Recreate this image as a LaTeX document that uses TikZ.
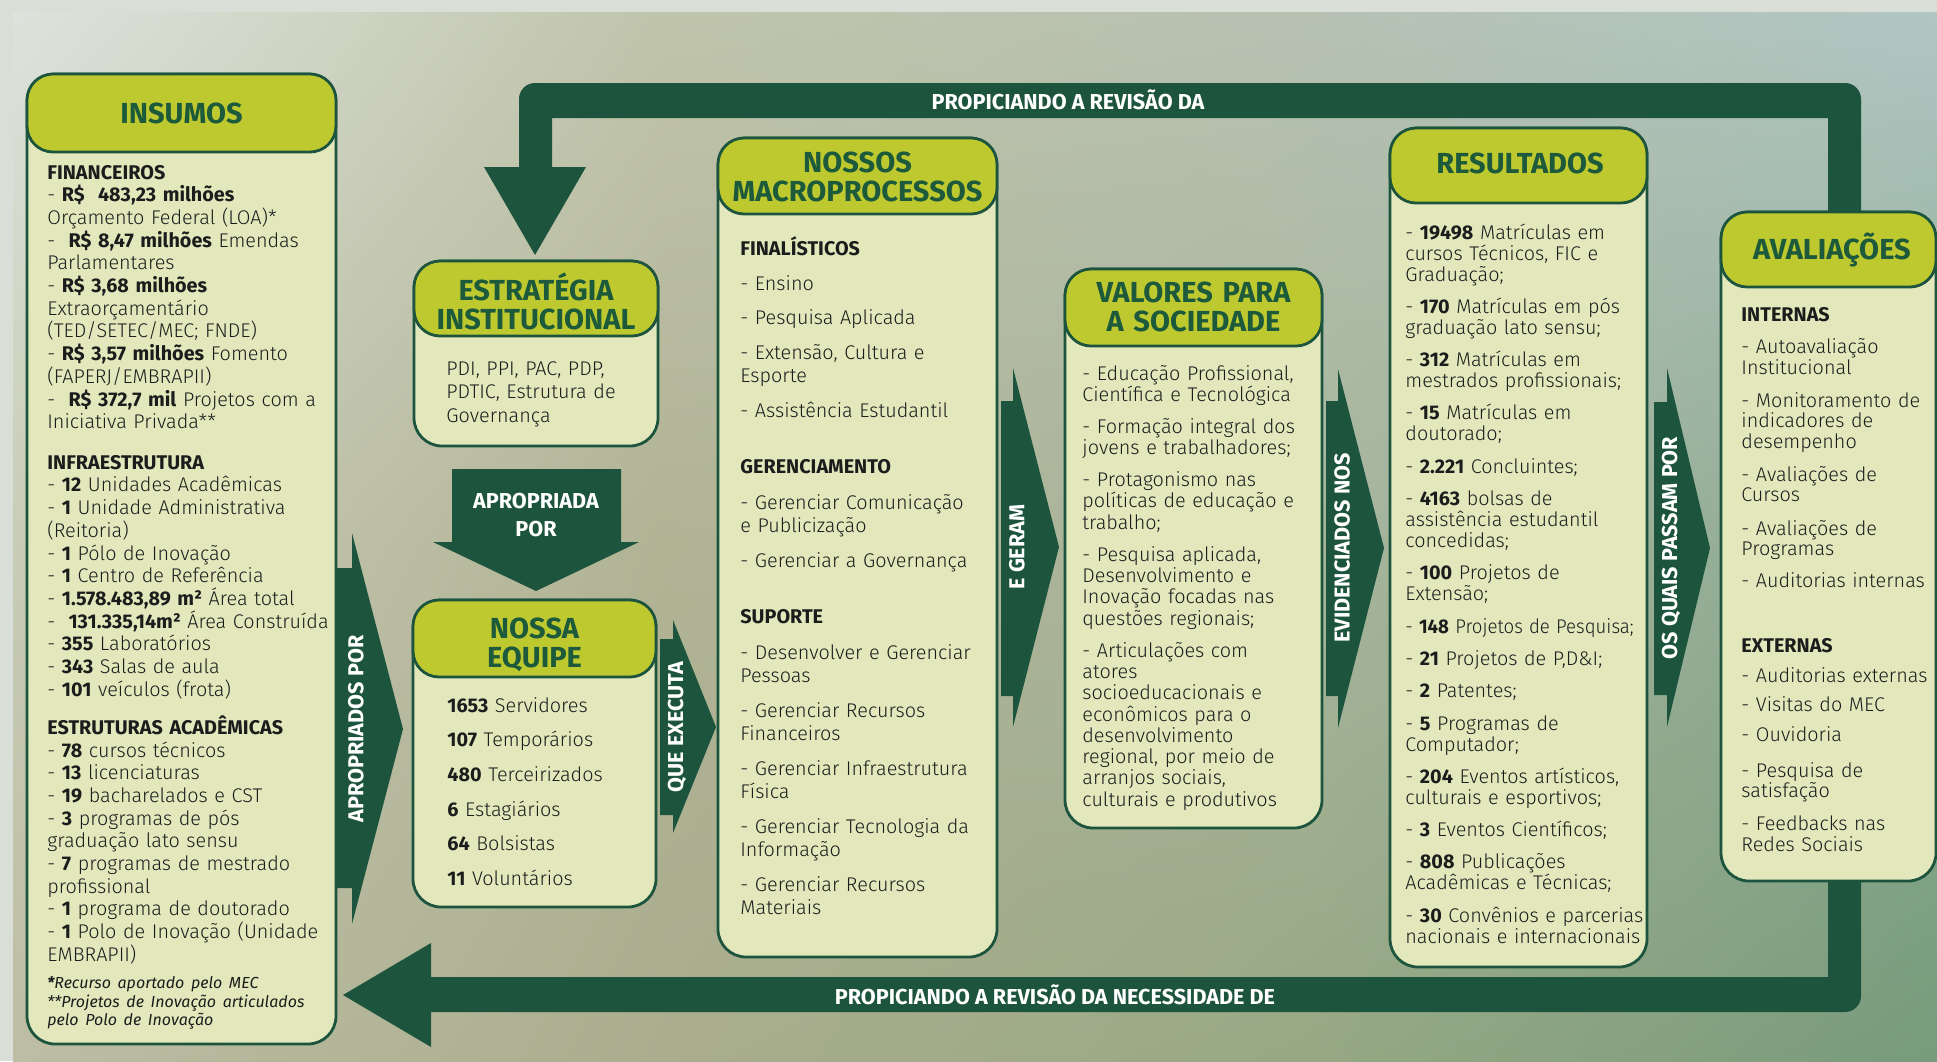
\documentclass[tikz,border=0pt]{standalone}
\usepackage{fontspec}
\IfFontExistsTF{Fira Sans Light}
  {\setmainfont{Fira Sans}[UprightFont=* Light, BoldFont=* Bold, ItalicFont=* Italic, BoldItalicFont=* Bold Italic]}
  {\setmainfont{Fira Sans}}
\usetikzlibrary{positioning}
\usetikzlibrary{fit}
\usetikzlibrary{shadings}

\definecolor{verde}{HTML}{1D543E}
\definecolor{titverde}{HTML}{1C5A3B}
\definecolor{lima}{HTML}{BDC92F}
\definecolor{creme}{HTML}{E3E8BC}
\definecolor{tinta}{HTML}{1C1C1C}
\definecolor{margem}{HTML}{D9DED6}
% cores do fundo (linha, coluna)
\definecolor{g00}{HTML}{DDE3DC}\definecolor{g01}{HTML}{C0C4AB}\definecolor{g02}{HTML}{B6C1B2}\definecolor{g03}{HTML}{B0C6C3}
\definecolor{g10}{HTML}{C9CCB6}\definecolor{g11}{HTML}{B1B395}\definecolor{g12}{HTML}{A8B59C}\definecolor{g13}{HTML}{8CAB95}
\definecolor{g20}{HTML}{BCBDA3}\definecolor{g21}{HTML}{AAAD8E}\definecolor{g22}{HTML}{97A884}\definecolor{g23}{HTML}{779B7B}

\tikzset{
  caixa/.style={draw=verde, line width=1.4pt, fill=creme, rounded corners=14pt, inner sep=0pt},
  cabeca/.style={draw=verde, line width=1.4pt, fill=lima, rounded corners=13pt, inner sep=0pt},
  titulo/.style={text=titverde, font=\fontsize{14.5}{14.5}\selectfont\bfseries, align=center, text width=135pt, anchor=base, inner sep=0pt},
  corpo/.style={text=tinta, anchor=base west, inner sep=0pt, align=left, text width=170pt},
  rotulo/.style={text=white, font=\fontsize{10.8}{14}\selectfont\bfseries, align=center, inner sep=0pt},
  seta/.style={fill=verde}
}

\begin{document}
\begin{tikzpicture}[x=0.5pt, y=-0.5pt]
\useasboundingbox (0,0) rectangle (1937,1061);
% fundo
\fill[margem] (0,0) rectangle (1937,1061);
\shade[upper left=g00, upper right=g01, lower left=g10, lower right=g11] (13,12) rectangle (661,541);
\shade[upper left=g01, upper right=g02, lower left=g11, lower right=g12] (660,12) rectangle (1301,541);
\shade[upper left=g02, upper right=g03, lower left=g12, lower right=g13] (1300,12) rectangle (1937,541);
\shade[upper left=g10, upper right=g11, lower left=g20, lower right=g21] (13,540) rectangle (661,1061);
\shade[upper left=g11, upper right=g12, lower left=g21, lower right=g22] (660,540) rectangle (1301,1061);
\shade[upper left=g12, upper right=g13, lower left=g22, lower right=g23] (1300,540) rectangle (1937,1061);

% setas de retorno
\fill[seta] (1828,240) -- (1828,118) -- (552,118) -- (552,167) -- (586,167) -- (535,255) -- (484,167) -- (519,167)
  [rounded corners=8pt] -- (519,83) -- (1861,83) [sharp corners] -- (1861,240) -- cycle;
\fill[seta] (1828,860) -- (1828,977) -- (431,977) -- (431,943) -- (343,995) -- (431,1047) -- (431,1012)
  [rounded corners=8pt] -- (1861,1012) [sharp corners] -- (1861,860) -- cycle;
\node[rotulo] (revisao) at (1068,100) {PROPICIANDO A REVISÃO DA};
\node[rotulo] (necessidade) at (1055,995) {PROPICIANDO A REVISÃO DA NECESSIDADE DE};

% setas entre as caixas
\foreach \xa/\xb/\xc/\ya/\yb/\yc/\yd/\ym/\nome/\lab in
  {336/352/403/568/888/533/924/729/apropriados/APROPRIADOS POR,
   660/673/716/639/815/620/833/727/executa/QUE EXECUTA,
   1001/1013/1059/401/696/368/727/547/geram/E GERAM,
   1326/1338/1384/401/696/369/728/548/evidenciados/EVIDENCIADOS NOS,
   1654/1667/1710/402/695/368/727/548/passam/OS QUAIS PASSAM POR}
{
  \fill[seta] (\xa,\ya) -- (\xb,\ya) -- (\xb,\yc) -- (\xc,\ym) -- (\xb,\yd) -- (\xb,\yb) -- (\xa,\yb) -- cycle;
  \node[rotulo, rotate=90] (\nome) at (\xb+4,\ym) {\lab};
}
\fill[seta] (452,469) -- (621,469) -- (621,542) -- (639,542) -- (536,591) -- (433,542) -- (452,542) -- cycle;
\node[rotulo, text width=90pt, anchor=base] (apropriada) at (536,508) {APROPRIADA\\POR};

% insumos
\node[caixa, fit={(27,74) (336,1044)}] (insumos) {};
\node[cabeca, fit={(27,74) (336,152)}] (insumos-cab) {};
\node[titulo] (insumos-tit) at (181.5,123) {INSUMOS};
\node[corpo, font=\fontsize{9.9}{11.35}\selectfont] (insumos-txt) at (47,179) {%
\textbf{FINANCEIROS}\\
- \textbf{R\$~~483,23 milhões}\\
Orçamento Federal (LOA)*\\
-~~\textbf{R\$ 8,47 milhões} Emendas\\
Parlamentares\\
- \textbf{R\$ 3,68 milhões}\\
Extraorçamentário\\
(TED/SETEC/MEC; FNDE)\\
- \textbf{R\$ 3,57 milhões} Fomento\\
(FAPERJ/EMBRAPII)\\
-~~\textbf{R\$ 372,7 mil} Projetos com a\\
Iniciativa Privada**\\[8.9pt]
\textbf{INFRAESTRUTURA}\\
- \textbf{12} Unidades Acadêmicas\\
- \textbf{1} Unidade Administrativa\\
(Reitoria)\\
- \textbf{1} Pólo de Inovação\\
- \textbf{1} Centro de Referência\\
- \textbf{1.578.483,89 m²} Área total\\
-~~\textbf{131.335,14m²} Área Construída\\
- \textbf{355} Laboratórios\\
- \textbf{343} Salas de aula\\
- \textbf{101} veículos (frota)\\[7.7pt]
\textbf{ESTRUTURAS ACADÊMICAS}\\
- \textbf{78} cursos técnicos\\
- \textbf{13} licenciaturas\\
- \textbf{19} bacharelados e CST\\
- \textbf{3} programas de pós\\
graduação lato sensu\\
- \textbf{7} programas de mestrado\\
profissional\\
- \textbf{1} programa de doutorado\\
- \textbf{1} Polo de Inovação (Unidade\\
EMBRAPII)\par\vspace{4.5pt}
{\fontsize{8}{9.25}\selectfont\itshape \textbf{*}Recurso aportado pelo MEC\\
{}**Projetos de Inovação articulados\\
pelo Polo de Inovação\par}};

% estrategia institucional
\node[caixa, fit={(414,261) (658,446)}] (estrategia) {};
\node[cabeca, fit={(414,261) (658,336)}] (estrategia-cab) {};
\node[titulo] (estrategia-tit) at (536,300) {ESTRATÉGIA\\INSTITUCIONAL};
\node[corpo, font=\fontsize{9.9}{11.75}\selectfont] (estrategia-txt) at (446,375) {%
PDI, PPI, PAC, PDP,\\
PDTIC, Estrutura de\\
Governança};

% nossa equipe
\node[caixa, fit={(413,600) (656,907)}] (equipe) {};
\node[cabeca, fit={(413,600) (656,677)}] (equipe-cab) {};
\node[titulo] (equipe-tit) at (534.5,638) {NOSSA\\EQUIPE};
\node[corpo, font=\fontsize{9.9}{17.35}\selectfont] (equipe-txt) at (447,712) {%
\textbf{1653} Servidores\\
\textbf{107} Temporários\\
\textbf{480} Terceirizados\\
\textbf{6} Estagiários\\
\textbf{64} Bolsistas\\
\textbf{11} Voluntários};

% macroprocessos
\node[caixa, fit={(718,138) (997,957)}] (macro) {};
\node[cabeca, fit={(718,138) (997,214)}] (macro-cab) {};
\node[titulo] (macro-tit) at (857.5,172) {NOSSOS\\MACROPROCESSOS};
\node[corpo, font=\fontsize{9.9}{11.75}\selectfont] (macro-txt) at (740,255) {%
\textbf{FINALÍSTICOS}\\[5.75pt]
- Ensino\\[5.5pt]
- Pesquisa Aplicada\\[5.5pt]
- Extensão, Cultura e\\
Esporte\\[5.5pt]
- Assistência Estudantil\\[16.25pt]
\textbf{GERENCIAMENTO}\\[6.25pt]
- Gerenciar Comunicação\\
e Publicização\\[5.5pt]
- Gerenciar a Governança\\[16.25pt]
\textbf{SUPORTE}\\[6.25pt]
- Desenvolver e Gerenciar\\
Pessoas\\[5.5pt]
- Gerenciar Recursos\\
Financeiros\\[5.5pt]
- Gerenciar Infraestrutura\\
Física\\[5.5pt]
- Gerenciar Tecnologia da\\
Informação\\[5.5pt]
- Gerenciar Recursos\\
Materiais};

% valores para a sociedade
\node[caixa, fit={(1065,269) (1322,828)}] (valores) {};
\node[cabeca, fit={(1065,269) (1322,346)}] (valores-cab) {};
\node[titulo] (valores-tit) at (1193.5,302) {VALORES PARA\\A SOCIEDADE};
\node[corpo, font=\fontsize{9.9}{10.65}\selectfont] (valores-txt) at (1082,380) {%
- Educação Profissional,\\
Científica e Tecnológica\\[5.35pt]
- Formação integral dos\\
jovens e trabalhadores;\\[5.35pt]
- Protagonismo nas\\
políticas de educação e\\
trabalho;\\[5.35pt]
- Pesquisa aplicada,\\
Desenvolvimento e\\
Inovação focadas nas\\
questões regionais;\\[5.35pt]
- Articulações com\\
atores\\
socioeducacionais e\\
econômicos para o\\
desenvolvimento\\
regional, por meio de\\
arranjos sociais,\\
culturais e produtivos};

% resultados
\node[caixa, fit={(1390,128) (1647,967)}] (resultados) {};
\node[cabeca, fit={(1390,128) (1647,203)}] (resultados-cab) {};
\node[titulo] (resultados-tit) at (1520,173) {RESULTADOS};
\node[corpo, font=\fontsize{9.9}{10.5}\selectfont] (resultados-txt) at (1405,239) {%
- \textbf{19498} Matrículas em\\
cursos Técnicos, FIC e\\
Graduação;\\[5.65pt]
- \textbf{170} Matrículas em pós\\
graduação lato sensu;\\[5.65pt]
- \textbf{312} Matrículas em\\
mestrados profissionais;\\[5.65pt]
- \textbf{15} Matrículas em\\
doutorado;\\[5.65pt]
- \textbf{2.221} Concluintes;\\[5.65pt]
- \textbf{4163} bolsas de\\
assistência estudantil\\
concedidas;\\[5.65pt]
- \textbf{100} Projetos de\\
Extensão;\\[5.65pt]
\scalebox{0.94}[1]{- \textbf{148} Projetos de Pesquisa;}\\[5.65pt]
- \textbf{21} Projetos de P,D\&I;\\[5.65pt]
- \textbf{2} Patentes;\\[5.65pt]
- \textbf{5} Programas de\\
Computador;\\[5.65pt]
- \textbf{204} Eventos artísticos,\\
culturais e esportivos;\\[5.65pt]
- \textbf{3} Eventos Científicos;\\[5.65pt]
- \textbf{808} Publicações\\
Acadêmicas e Técnicas;\\[5.65pt]
- \textbf{30} Convênios e parcerias\\
nacionais e internacionais};

% avaliacoes
\node[caixa, fit={(1721,212) (1936,881)}] (avaliacoes) {};
\node[cabeca, fit={(1721,212) (1936,287)}] (avaliacoes-cab) {};
\node[titulo] (avaliacoes-tit) at (1832,259) {AVALIAÇÕES};
\node[corpo, font=\fontsize{9.9}{10.15}\selectfont] (avaliacoes-txt) at (1741,321) {%
\textbf{INTERNAS}\\[6.3pt]
- Autoavaliação\\
Institucional\\[6.5pt]
- Monitoramento de\\
indicadores de\\
desempenho\\[6.5pt]
- Avaliações de\\
Cursos\\[6.5pt]
- Avaliações de\\
Programas\\[6pt]
- Auditorias internas\\[22.3pt]
\textbf{EXTERNAS}\\[4.8pt]
- Auditorias externas\\[4.5pt]
- Visitas do MEC\\[4.8pt]
- Ouvidoria\\[7.8pt]
- Pesquisa de\\
satisfação\\[6.3pt]
- Feedbacks nas\\
Redes Sociais};
\end{tikzpicture}
\end{document}
